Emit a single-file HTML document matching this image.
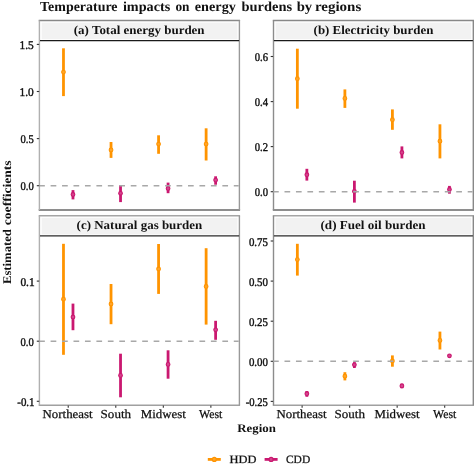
<!DOCTYPE html><html><head><meta charset="utf-8"><style>html,body{margin:0;padding:0;background:#fff;}svg{display:block;filter:blur(0.3px);}text{font-family:"Liberation Serif",serif;text-rendering:geometricPrecision;}.r{stroke:#111;stroke-width:0.25px;}.r2{stroke:#111;stroke-width:0.4px;}</style></head><body>
<svg width="475" height="465" viewBox="0 0 475 465">
<rect width="475" height="465" fill="#fff"/>
<rect x="41.7" y="22.6" width="195.7" height="16.6" fill="#F2F2F2"/>
<line x1="38.7" y1="20.45" x2="240.1" y2="20.45" stroke="#888888" stroke-width="1.4"/>
<line x1="38.7" y1="210" x2="240.1" y2="210" stroke="#696969" stroke-width="1.4"/>
<line x1="39.4" y1="20.45" x2="39.4" y2="210" stroke="#b0b0b0" stroke-width="1.4"/>
<line x1="239.4" y1="20.45" x2="239.4" y2="210" stroke="#999999" stroke-width="1.4"/>
<line x1="63.48" y1="48.3" x2="63.48" y2="96.1" stroke="#FF9400" stroke-width="2.8"/>
<circle cx="63.48" cy="72.1" r="1.85" fill="#FFA52A" stroke="#FF9400" stroke-width="1.1"/>
<line x1="72.98" y1="190.1" x2="72.98" y2="199.4" stroke="#CA1870" stroke-width="2.8"/>
<circle cx="72.98" cy="194.5" r="1.85" fill="#D5468D" stroke="#CA1870" stroke-width="1.1"/>
<line x1="111.03" y1="142" x2="111.03" y2="157.9" stroke="#FF9400" stroke-width="2.8"/>
<circle cx="111.03" cy="149.9" r="1.85" fill="#FFA52A" stroke="#FF9400" stroke-width="1.1"/>
<line x1="120.53" y1="185.3" x2="120.53" y2="202.1" stroke="#CA1870" stroke-width="2.8"/>
<circle cx="120.53" cy="193.3" r="1.85" fill="#D5468D" stroke="#CA1870" stroke-width="1.1"/>
<line x1="158.57" y1="135.3" x2="158.57" y2="153.8" stroke="#FF9400" stroke-width="2.8"/>
<circle cx="158.57" cy="144.1" r="1.85" fill="#FFA52A" stroke="#FF9400" stroke-width="1.1"/>
<line x1="168.07" y1="182.6" x2="168.07" y2="193.2" stroke="#CA1870" stroke-width="2.8"/>
<circle cx="168.07" cy="188.5" r="1.85" fill="#D5468D" stroke="#CA1870" stroke-width="1.1"/>
<line x1="206.12" y1="128.3" x2="206.12" y2="160.5" stroke="#FF9400" stroke-width="2.8"/>
<circle cx="206.12" cy="144.1" r="1.85" fill="#FFA52A" stroke="#FF9400" stroke-width="1.1"/>
<line x1="215.62" y1="176.3" x2="215.62" y2="184.7" stroke="#CA1870" stroke-width="2.8"/>
<circle cx="215.62" cy="180.1" r="1.85" fill="#D5468D" stroke="#CA1870" stroke-width="1.1"/>
<line x1="39.15" y1="185.7" x2="238.7" y2="185.7" stroke="#A8A8A8" stroke-width="1.4" stroke-dasharray="5.7 5.75"/>
<line x1="40" y1="40.5" x2="239.1" y2="40.5" stroke="#1a1a1a" stroke-width="1.25"/>
<line x1="36.8" y1="44.4" x2="39.2" y2="44.4" stroke="#333" stroke-width="1.1"/>
<line x1="36.8" y1="91.5" x2="39.2" y2="91.5" stroke="#333" stroke-width="1.1"/>
<line x1="36.8" y1="138.6" x2="39.2" y2="138.6" stroke="#333" stroke-width="1.1"/>
<line x1="36.8" y1="185.7" x2="39.2" y2="185.7" stroke="#333" stroke-width="1.1"/>
<rect x="275.6" y="22.6" width="195.6" height="16.6" fill="#F2F2F2"/>
<line x1="272.8" y1="20.45" x2="474" y2="20.45" stroke="#888888" stroke-width="1.4"/>
<line x1="272.8" y1="210" x2="474" y2="210" stroke="#696969" stroke-width="1.4"/>
<line x1="273.5" y1="20.45" x2="273.5" y2="210" stroke="#8c8c8c" stroke-width="1.4"/>
<line x1="473.3" y1="20.45" x2="473.3" y2="210" stroke="#888888" stroke-width="1.4"/>
<line x1="297.36" y1="48.7" x2="297.36" y2="108.7" stroke="#FF9400" stroke-width="2.8"/>
<circle cx="297.36" cy="78.7" r="1.85" fill="#FFA52A" stroke="#FF9400" stroke-width="1.1"/>
<line x1="306.86" y1="168.8" x2="306.86" y2="180.6" stroke="#CA1870" stroke-width="2.8"/>
<circle cx="306.86" cy="174.7" r="1.85" fill="#D5468D" stroke="#CA1870" stroke-width="1.1"/>
<line x1="344.89" y1="89.4" x2="344.89" y2="107.9" stroke="#FF9400" stroke-width="2.8"/>
<circle cx="344.89" cy="98.4" r="1.85" fill="#FFA52A" stroke="#FF9400" stroke-width="1.1"/>
<line x1="354.39" y1="180.7" x2="354.39" y2="202.6" stroke="#CA1870" stroke-width="2.8"/>
<circle cx="354.39" cy="191.3" r="1.85" fill="#D5468D" stroke="#CA1870" stroke-width="1.1"/>
<line x1="392.41" y1="109.4" x2="392.41" y2="129.8" stroke="#FF9400" stroke-width="2.8"/>
<circle cx="392.41" cy="119.7" r="1.85" fill="#FFA52A" stroke="#FF9400" stroke-width="1.1"/>
<line x1="401.91" y1="146.4" x2="401.91" y2="158.4" stroke="#CA1870" stroke-width="2.8"/>
<circle cx="401.91" cy="152.5" r="1.85" fill="#D5468D" stroke="#CA1870" stroke-width="1.1"/>
<line x1="439.94" y1="124.3" x2="439.94" y2="158.4" stroke="#FF9400" stroke-width="2.8"/>
<circle cx="439.94" cy="141.2" r="1.85" fill="#FFA52A" stroke="#FF9400" stroke-width="1.1"/>
<line x1="449.44" y1="185.9" x2="449.44" y2="193.7" stroke="#CA1870" stroke-width="2.8"/>
<circle cx="449.44" cy="189.5" r="1.85" fill="#D5468D" stroke="#CA1870" stroke-width="1.1"/>
<line x1="273.05" y1="191.7" x2="472.5" y2="191.7" stroke="#A8A8A8" stroke-width="1.4" stroke-dasharray="5.7 5.75"/>
<line x1="273.9" y1="40.5" x2="472.9" y2="40.5" stroke="#1a1a1a" stroke-width="1.25"/>
<line x1="270.7" y1="56.5" x2="273.1" y2="56.5" stroke="#333" stroke-width="1.1"/>
<line x1="270.7" y1="101.6" x2="273.1" y2="101.6" stroke="#333" stroke-width="1.1"/>
<line x1="270.7" y1="146.6" x2="273.1" y2="146.6" stroke="#333" stroke-width="1.1"/>
<line x1="270.7" y1="191.7" x2="273.1" y2="191.7" stroke="#333" stroke-width="1.1"/>
<rect x="41.7" y="217.8" width="195.7" height="16.6" fill="#F2F2F2"/>
<line x1="38.7" y1="215.8" x2="240.1" y2="215.8" stroke="#a5a5a5" stroke-width="1.4"/>
<line x1="38.7" y1="405.3" x2="240.1" y2="405.3" stroke="#a0a0a0" stroke-width="1.4"/>
<line x1="39.4" y1="215.8" x2="39.4" y2="405.3" stroke="#b0b0b0" stroke-width="1.4"/>
<line x1="239.4" y1="215.8" x2="239.4" y2="405.3" stroke="#999999" stroke-width="1.4"/>
<line x1="63.48" y1="243.8" x2="63.48" y2="354.8" stroke="#FF9400" stroke-width="2.8"/>
<circle cx="63.48" cy="299.2" r="1.85" fill="#FFA52A" stroke="#FF9400" stroke-width="1.1"/>
<line x1="72.98" y1="303.6" x2="72.98" y2="330.2" stroke="#CA1870" stroke-width="2.8"/>
<circle cx="72.98" cy="317.1" r="1.85" fill="#D5468D" stroke="#CA1870" stroke-width="1.1"/>
<line x1="111.03" y1="284" x2="111.03" y2="324.2" stroke="#FF9400" stroke-width="2.8"/>
<circle cx="111.03" cy="304" r="1.85" fill="#FFA52A" stroke="#FF9400" stroke-width="1.1"/>
<line x1="120.53" y1="353.7" x2="120.53" y2="397.3" stroke="#CA1870" stroke-width="2.8"/>
<circle cx="120.53" cy="375.4" r="1.85" fill="#D5468D" stroke="#CA1870" stroke-width="1.1"/>
<line x1="158.57" y1="244" x2="158.57" y2="293.9" stroke="#FF9400" stroke-width="2.8"/>
<circle cx="158.57" cy="269" r="1.85" fill="#FFA52A" stroke="#FF9400" stroke-width="1.1"/>
<line x1="168.07" y1="350.3" x2="168.07" y2="378.7" stroke="#CA1870" stroke-width="2.8"/>
<circle cx="168.07" cy="364.4" r="1.85" fill="#D5468D" stroke="#CA1870" stroke-width="1.1"/>
<line x1="206.12" y1="248.2" x2="206.12" y2="324.6" stroke="#FF9400" stroke-width="2.8"/>
<circle cx="206.12" cy="286.5" r="1.85" fill="#FFA52A" stroke="#FF9400" stroke-width="1.1"/>
<line x1="215.62" y1="320.8" x2="215.62" y2="339.8" stroke="#CA1870" stroke-width="2.8"/>
<circle cx="215.62" cy="329.8" r="1.85" fill="#D5468D" stroke="#CA1870" stroke-width="1.1"/>
<line x1="39.15" y1="341.2" x2="238.7" y2="341.2" stroke="#A8A8A8" stroke-width="1.4" stroke-dasharray="5.7 5.75"/>
<line x1="40" y1="235.9" x2="239.1" y2="235.9" stroke="#2a2a2a" stroke-width="1.3"/>
<line x1="36.8" y1="281.1" x2="39.2" y2="281.1" stroke="#333" stroke-width="1.1"/>
<line x1="36.8" y1="341.2" x2="39.2" y2="341.2" stroke="#333" stroke-width="1.1"/>
<line x1="36.8" y1="401.3" x2="39.2" y2="401.3" stroke="#333" stroke-width="1.1"/>
<line x1="68.23" y1="405.4" x2="68.23" y2="407.7" stroke="#333" stroke-width="1.1"/>
<line x1="115.78" y1="405.4" x2="115.78" y2="407.7" stroke="#333" stroke-width="1.1"/>
<line x1="163.32" y1="405.4" x2="163.32" y2="407.7" stroke="#333" stroke-width="1.1"/>
<line x1="210.87" y1="405.4" x2="210.87" y2="407.7" stroke="#333" stroke-width="1.1"/>
<rect x="275.6" y="217.8" width="195.6" height="16.6" fill="#F2F2F2"/>
<line x1="272.8" y1="215.8" x2="474" y2="215.8" stroke="#a5a5a5" stroke-width="1.4"/>
<line x1="272.8" y1="405.3" x2="474" y2="405.3" stroke="#a0a0a0" stroke-width="1.4"/>
<line x1="273.5" y1="215.8" x2="273.5" y2="405.3" stroke="#8c8c8c" stroke-width="1.4"/>
<line x1="473.3" y1="215.8" x2="473.3" y2="405.3" stroke="#888888" stroke-width="1.4"/>
<line x1="297.36" y1="243.8" x2="297.36" y2="275.6" stroke="#FF9400" stroke-width="2.8"/>
<circle cx="297.36" cy="259.6" r="1.85" fill="#FFA52A" stroke="#FF9400" stroke-width="1.1"/>
<line x1="306.86" y1="391" x2="306.86" y2="396.8" stroke="#CA1870" stroke-width="2.8"/>
<circle cx="306.86" cy="393.7" r="1.85" fill="#D5468D" stroke="#CA1870" stroke-width="1.1"/>
<line x1="344.89" y1="372.2" x2="344.89" y2="380.4" stroke="#FF9400" stroke-width="2.8"/>
<circle cx="344.89" cy="376.2" r="1.85" fill="#FFA52A" stroke="#FF9400" stroke-width="1.1"/>
<line x1="354.39" y1="362.1" x2="354.39" y2="368" stroke="#CA1870" stroke-width="2.8"/>
<circle cx="354.39" cy="364.8" r="1.85" fill="#D5468D" stroke="#CA1870" stroke-width="1.1"/>
<line x1="392.41" y1="355.4" x2="392.41" y2="366.7" stroke="#FF9400" stroke-width="2.8"/>
<circle cx="392.41" cy="361" r="1.85" fill="#FFA52A" stroke="#FF9400" stroke-width="1.1"/>
<line x1="401.91" y1="383.5" x2="401.91" y2="388.3" stroke="#CA1870" stroke-width="2.8"/>
<circle cx="401.91" cy="385.9" r="1.85" fill="#D5468D" stroke="#CA1870" stroke-width="1.1"/>
<line x1="439.94" y1="331.6" x2="439.94" y2="349.5" stroke="#FF9400" stroke-width="2.8"/>
<circle cx="439.94" cy="340.4" r="1.85" fill="#FFA52A" stroke="#FF9400" stroke-width="1.1"/>
<line x1="449.44" y1="354" x2="449.44" y2="357.6" stroke="#CA1870" stroke-width="2.8"/>
<circle cx="449.44" cy="355.8" r="1.85" fill="#D5468D" stroke="#CA1870" stroke-width="1.1"/>
<line x1="273.05" y1="361.3" x2="472.5" y2="361.3" stroke="#A8A8A8" stroke-width="1.4" stroke-dasharray="5.7 5.75"/>
<line x1="273.9" y1="235.9" x2="472.9" y2="235.9" stroke="#2a2a2a" stroke-width="1.3"/>
<line x1="270.7" y1="241" x2="273.1" y2="241" stroke="#333" stroke-width="1.1"/>
<line x1="270.7" y1="281.1" x2="273.1" y2="281.1" stroke="#333" stroke-width="1.1"/>
<line x1="270.7" y1="321.2" x2="273.1" y2="321.2" stroke="#333" stroke-width="1.1"/>
<line x1="270.7" y1="361.3" x2="273.1" y2="361.3" stroke="#333" stroke-width="1.1"/>
<line x1="270.7" y1="401.4" x2="273.1" y2="401.4" stroke="#333" stroke-width="1.1"/>
<line x1="302.11" y1="405.4" x2="302.11" y2="407.7" stroke="#333" stroke-width="1.1"/>
<line x1="349.64" y1="405.4" x2="349.64" y2="407.7" stroke="#333" stroke-width="1.1"/>
<line x1="397.16" y1="405.4" x2="397.16" y2="407.7" stroke="#333" stroke-width="1.1"/>
<line x1="444.69" y1="405.4" x2="444.69" y2="407.7" stroke="#333" stroke-width="1.1"/>
<text x="40.1" y="11.2" font-size="13.8" font-weight="bold" fill="#111111" textLength="77.44" lengthAdjust="spacingAndGlyphs">Temperature</text>
<text x="122.9" y="11.2" font-size="13.8" font-weight="bold" fill="#111111" textLength="47.4" lengthAdjust="spacingAndGlyphs">impacts</text>
<text x="175.4" y="11.2" font-size="13.8" font-weight="bold" fill="#111111" textLength="14.09" lengthAdjust="spacingAndGlyphs">on</text>
<text x="194.8" y="11.2" font-size="13.8" font-weight="bold" fill="#111111" textLength="41.14" lengthAdjust="spacingAndGlyphs">energy</text>
<text x="241.5" y="11.2" font-size="13.8" font-weight="bold" fill="#111111" textLength="50.63" lengthAdjust="spacingAndGlyphs">burdens</text>
<text x="296.7" y="11.2" font-size="13.8" font-weight="bold" fill="#111111" textLength="15.52" lengthAdjust="spacingAndGlyphs">by</text>
<text x="314.9" y="11.2" font-size="13.8" font-weight="bold" fill="#111111" textLength="46.34" lengthAdjust="spacingAndGlyphs">regions</text>
<text x="73.8" y="34.1" font-size="12.2" font-weight="bold" fill="#111111" textLength="130.8" lengthAdjust="spacingAndGlyphs">(a) Total energy burden</text>
<text x="313.6" y="34.1" font-size="12.2" font-weight="bold" fill="#111111" textLength="119.77" lengthAdjust="spacingAndGlyphs">(b) Electricity burden</text>
<text x="76.6" y="229.3" font-size="12.2" font-weight="bold" fill="#111111" textLength="125.67" lengthAdjust="spacingAndGlyphs">(c) Natural gas burden</text>
<text x="320.5" y="229.3" font-size="12.2" font-weight="bold" fill="#111111" textLength="105.15" lengthAdjust="spacingAndGlyphs">(d) Fuel oil burden</text>
<text x="42.6" y="417.9" font-size="12.2" class="r" fill="#111111" textLength="49.96" lengthAdjust="spacingAndGlyphs">Northeast</text>
<text x="100.6" y="417.9" font-size="12.2" class="r" fill="#111111" textLength="30.49" lengthAdjust="spacingAndGlyphs">South</text>
<text x="140.7" y="417.9" font-size="12.2" class="r" fill="#111111" textLength="45.04" lengthAdjust="spacingAndGlyphs">Midwest</text>
<text x="199.1" y="417.9" font-size="12.2" class="r" fill="#111111" textLength="23.31" lengthAdjust="spacingAndGlyphs">West</text>
<text x="276.5" y="417.9" font-size="12.2" class="r" fill="#111111" textLength="49.96" lengthAdjust="spacingAndGlyphs">Northeast</text>
<text x="334.5" y="417.9" font-size="12.2" class="r" fill="#111111" textLength="30.49" lengthAdjust="spacingAndGlyphs">South</text>
<text x="374.6" y="417.9" font-size="12.2" class="r" fill="#111111" textLength="45.04" lengthAdjust="spacingAndGlyphs">Midwest</text>
<text x="433" y="417.9" font-size="12.2" class="r" fill="#111111" textLength="23.31" lengthAdjust="spacingAndGlyphs">West</text>
<text x="237.2" y="432.4" font-size="11.6" font-weight="bold" fill="#111111" textLength="38.66" lengthAdjust="spacingAndGlyphs">Region</text>
<text x="229.6" y="463" font-size="11.2" class="r" fill="#111111" textLength="26.98" lengthAdjust="spacingAndGlyphs">HDD</text>
<text x="285.9" y="463" font-size="11.2" class="r" fill="#111111" textLength="24.31" lengthAdjust="spacingAndGlyphs">CDD</text>
<text x="19.49" y="48.9" font-size="11.8" class="r2" fill="#111111" textLength="14.22" lengthAdjust="spacingAndGlyphs">1.5</text>
<text x="19.49" y="96" font-size="11.8" class="r2" fill="#111111" textLength="14.22" lengthAdjust="spacingAndGlyphs">1.0</text>
<text x="20.45" y="143.1" font-size="11.8" class="r2" fill="#111111" textLength="13.28" lengthAdjust="spacingAndGlyphs">0.5</text>
<text x="20.45" y="190.2" font-size="11.8" class="r2" fill="#111111" textLength="13.28" lengthAdjust="spacingAndGlyphs">0.0</text>
<text x="254.8" y="61" font-size="11.8" class="r2" fill="#111111" textLength="13.28" lengthAdjust="spacingAndGlyphs">0.6</text>
<text x="254.8" y="106.1" font-size="11.8" class="r2" fill="#111111" textLength="13.28" lengthAdjust="spacingAndGlyphs">0.4</text>
<text x="254.8" y="151.1" font-size="11.8" class="r2" fill="#111111" textLength="13.28" lengthAdjust="spacingAndGlyphs">0.2</text>
<text x="254.8" y="196.2" font-size="11.8" class="r2" fill="#111111" textLength="13.28" lengthAdjust="spacingAndGlyphs">0.0</text>
<text x="20.45" y="285.6" font-size="11.8" class="r2" fill="#111111" textLength="14.22" lengthAdjust="spacingAndGlyphs">0.1</text>
<text x="20.45" y="345.7" font-size="11.8" class="r2" fill="#111111" textLength="13.28" lengthAdjust="spacingAndGlyphs">0.0</text>
<text x="17.25" y="405.8" font-size="11.8" class="r2" fill="#111111" textLength="17.34" lengthAdjust="spacingAndGlyphs">-0.1</text>
<text x="248.9" y="245.5" font-size="11.8" class="r2" fill="#111111" textLength="19.08" lengthAdjust="spacingAndGlyphs">0.75</text>
<text x="248.9" y="285.6" font-size="11.8" class="r2" fill="#111111" textLength="19.08" lengthAdjust="spacingAndGlyphs">0.50</text>
<text x="248.9" y="325.7" font-size="11.8" class="r2" fill="#111111" textLength="19.08" lengthAdjust="spacingAndGlyphs">0.25</text>
<text x="248.9" y="365.8" font-size="11.8" class="r2" fill="#111111" textLength="19.08" lengthAdjust="spacingAndGlyphs">0.00</text>
<text x="245.7" y="405.9" font-size="11.8" class="r2" fill="#111111" textLength="22.22" lengthAdjust="spacingAndGlyphs">-0.25</text>
<text transform="translate(10.6,0) rotate(-90)" x="-284" y="0" font-size="11.8" font-weight="bold" fill="#111111" textLength="54.83" lengthAdjust="spacingAndGlyphs">Estimated</text>
<text transform="translate(10.6,0) rotate(-90)" x="-225.2" y="0" font-size="11.8" font-weight="bold" fill="#111111" textLength="64.8" lengthAdjust="spacingAndGlyphs">coefficients</text>
<line x1="207.8" y1="459.4" x2="220.8" y2="459.4" stroke="#FF9400" stroke-width="2.8"/>
<circle cx="214.3" cy="459.4" r="2" fill="#FFA52A" stroke="#FF9400" stroke-width="1.2"/>
<line x1="264.6" y1="459.4" x2="277.6" y2="459.4" stroke="#CA1870" stroke-width="2.8"/>
<circle cx="271.1" cy="459.4" r="2" fill="#D5468D" stroke="#CA1870" stroke-width="1.2"/>
</svg></body></html>
